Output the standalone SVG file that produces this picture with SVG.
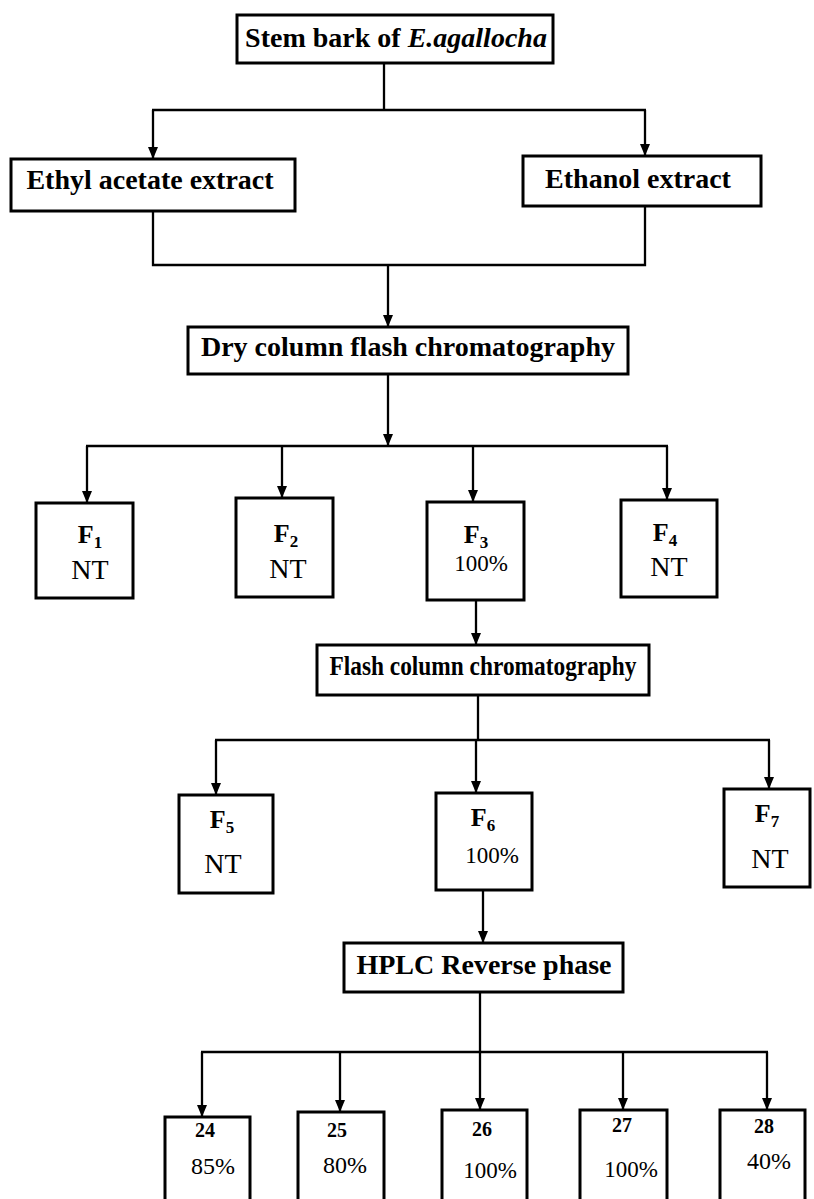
<svg xmlns="http://www.w3.org/2000/svg" width="814" height="1199" viewBox="0 0 814 1199">
  <defs>
    <marker id="arrow" markerUnits="userSpaceOnUse" markerWidth="12" markerHeight="10" viewBox="0 0 12 10" refX="12" refY="5" orient="auto">
      <path d="M0,0 L12,5 L0,10 Z" fill="#000"/>
    </marker>
    <style>
      .box { fill: #fff; stroke: #000; stroke-width: 3; }
      .wire { fill: none; stroke: #000; stroke-width: 2.3; }
      .arr { marker-end: url(#arrow); }
      .t { font-family: "Liberation Serif", "Times New Roman", serif; fill: #000; }
      .head { font-size: 28px; font-weight: bold; text-anchor: middle; }
      .fl { font-size: 26px; font-weight: bold; text-anchor: middle; }
      .sub { font-size: 17px; }
      .nt { font-size: 28px; text-anchor: middle; }
      .pc { font-size: 23px; text-anchor: middle; }
      .num { font-size: 20px; font-weight: bold; text-anchor: middle; }
      .pc2 { font-size: 24px; text-anchor: middle; }
    </style>
  </defs>

  <!-- connectors -->
  <g id="connectors">
    <line class="wire" x1="384" y1="63" x2="384" y2="110"/>
    <line class="wire" x1="152" y1="110" x2="646" y2="110"/>
    <line class="wire arr" x1="153" y1="110" x2="153" y2="159"/>
    <line class="wire arr" x1="645" y1="110" x2="645" y2="156"/>

    <polyline class="wire" points="153,211 153,265 645,265 645,206"/>
    <line class="wire arr" x1="388" y1="265" x2="388" y2="327"/>

    <line class="wire arr" x1="388" y1="374" x2="388" y2="446"/>
    <line class="wire" x1="86" y1="446" x2="668" y2="446"/>
    <line class="wire arr" x1="87" y1="446" x2="87" y2="503"/>
    <line class="wire arr" x1="282" y1="446" x2="282" y2="498"/>
    <line class="wire arr" x1="473" y1="446" x2="473" y2="502"/>
    <line class="wire arr" x1="667" y1="446" x2="667" y2="500"/>

    <line class="wire arr" x1="476" y1="600" x2="476" y2="645"/>

    <line class="wire" x1="478" y1="695" x2="478" y2="740"/>
    <line class="wire" x1="215" y1="740" x2="770" y2="740"/>
    <line class="wire arr" x1="216" y1="740" x2="216" y2="795"/>
    <line class="wire arr" x1="476" y1="740" x2="476" y2="793"/>
    <line class="wire arr" x1="769" y1="740" x2="769" y2="789"/>

    <line class="wire arr" x1="483" y1="890" x2="483" y2="943"/>

    <line class="wire arr" x1="480" y1="992" x2="480" y2="1110"/>
    <line class="wire" x1="201" y1="1052" x2="768" y2="1052"/>
    <line class="wire arr" x1="202" y1="1052" x2="202" y2="1117"/>
    <line class="wire arr" x1="340" y1="1052" x2="340" y2="1112"/>
    <line class="wire arr" x1="623" y1="1052" x2="623" y2="1110"/>
    <line class="wire arr" x1="767" y1="1052" x2="767" y2="1110"/>
  </g>

  <!-- source material -->
  <g id="stem-bark">
    <rect class="box" x="237" y="15" width="316" height="48"/>
    <text class="t head" x="396" y="47">Stem bark of <tspan font-style="italic">E.agallocha</tspan></text>
  </g>

  <!-- extracts -->
  <g id="ethyl-acetate">
    <rect class="box" x="11" y="159" width="284" height="52"/>
    <text class="t head" x="150" y="189" font-size="29">Ethyl acetate extract</text>
  </g>
  <g id="ethanol">
    <rect class="box" x="523" y="156" width="238" height="50"/>
    <text class="t head" x="638" y="188">Ethanol extract</text>
  </g>

  <g id="dry-column">
    <rect class="box" x="188" y="327" width="440" height="47"/>
    <text class="t head" x="408" y="356">Dry column flash chromatography</text>
  </g>

  <!-- first fractions -->
  <g id="f1">
    <rect class="box" x="36" y="503" width="97" height="95"/>
    <text class="t fl" x="90" y="543">F<tspan class="sub" dy="5">1</tspan></text>
    <text class="t nt" x="90" y="579">NT</text>
  </g>
  <g id="f2">
    <rect class="box" x="236" y="498" width="97" height="99"/>
    <text class="t fl" x="286" y="542">F<tspan class="sub" dy="5">2</tspan></text>
    <text class="t nt" x="288" y="578">NT</text>
  </g>
  <g id="f3">
    <rect class="box" x="427" y="502" width="97" height="98"/>
    <text class="t fl" x="476" y="543">F<tspan class="sub" dy="5">3</tspan></text>
    <text class="t pc" x="481" y="571">100%</text>
  </g>
  <g id="f4">
    <rect class="box" x="621" y="500" width="96" height="97"/>
    <text class="t fl" x="665" y="541">F<tspan class="sub" dy="5">4</tspan></text>
    <text class="t nt" x="669" y="576">NT</text>
  </g>

  <g id="flash-column">
    <rect class="box" x="317" y="645" width="332" height="50"/>
    <text class="t head" x="483" y="675" font-size="22" textLength="307" lengthAdjust="spacingAndGlyphs">Flash column chromatography</text>
  </g>

  <!-- second fractions -->
  <g id="f5">
    <rect class="box" x="179" y="795" width="94" height="98"/>
    <text class="t fl" x="222" y="828">F<tspan class="sub" dy="5">5</tspan></text>
    <text class="t nt" x="223" y="873">NT</text>
  </g>
  <g id="f6">
    <rect class="box" x="436" y="793" width="96" height="97"/>
    <text class="t fl" x="483" y="826">F<tspan class="sub" dy="5">6</tspan></text>
    <text class="t pc" x="492" y="863">100%</text>
  </g>
  <g id="f7">
    <rect class="box" x="724" y="789" width="86" height="98"/>
    <text class="t fl" x="767" y="822">F<tspan class="sub" dy="5">7</tspan></text>
    <text class="t nt" x="770" y="868">NT</text>
  </g>

  <g id="hplc">
    <rect class="box" x="344" y="943" width="279" height="49"/>
    <text class="t head" x="484" y="974">HPLC Reverse phase</text>
  </g>

  <!-- isolated compounds -->
  <g id="c24">
    <rect class="box" x="165" y="1117" width="85" height="90"/>
    <text class="t num" x="205" y="1137">24</text>
    <text class="t pc2" x="213" y="1174">85%</text>
  </g>
  <g id="c25">
    <rect class="box" x="298" y="1112" width="86" height="95"/>
    <text class="t num" x="337" y="1137">25</text>
    <text class="t pc2" x="345" y="1173">80%</text>
  </g>
  <g id="c26">
    <rect class="box" x="442" y="1110" width="85" height="97"/>
    <text class="t num" x="482" y="1136">26</text>
    <text class="t pc" x="490" y="1178">100%</text>
  </g>
  <g id="c27">
    <rect class="box" x="580" y="1110" width="87" height="97"/>
    <text class="t num" x="622" y="1132">27</text>
    <text class="t pc" x="631" y="1177">100%</text>
  </g>
  <g id="c28">
    <rect class="box" x="720" y="1110" width="85" height="97"/>
    <text class="t num" x="764" y="1133" font-size="23">28</text>
    <text class="t pc2" x="769" y="1169">40%</text>
  </g>
</svg>
